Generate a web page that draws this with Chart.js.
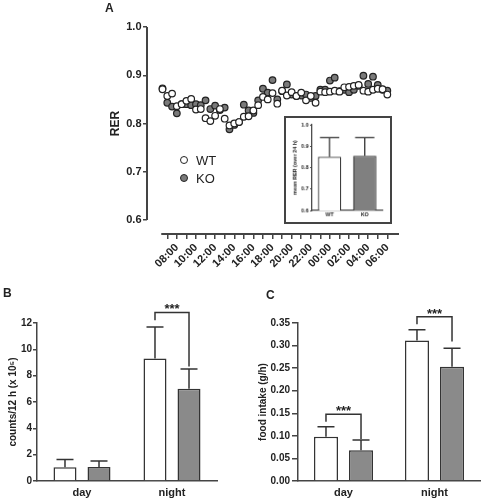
<!DOCTYPE html>
<html>
<head>
<meta charset="utf-8">
<script src="https://cdn.jsdelivr.net/npm/chart.js@4.4.1/dist/chart.umd.min.js"></script>
<style>
  body { margin: 0; background: #fff; }
  #wrap { position: relative; width: 484px; height: 500px; font-family: "Liberation Sans", Arial, sans-serif; color: #222; }
  #wrap canvas { position: absolute; }
  .tag { position: absolute; font-weight: bold; font-size: 12px; line-height: 12px; }
  #legendA { position: absolute; left: 180px; top: 151px; }
  #legendA div { display: flex; align-items: center; height: 18px; font-size: 13px; }
  #legendA span { display: inline-block; width: 6px; height: 6px; border: 1.3px solid #222; border-radius: 50%; margin-right: 8px; }
  #chartI { border: 2px solid #444; background: #fff; }
</style>
</head>
<body>
<div id="wrap">
  <canvas id="chartA" width="484" height="270" style="left:0;top:0"></canvas>
  <canvas id="chartI" width="108" height="108" style="left:284px;top:116px"></canvas>
  <canvas id="chartB" width="242" height="230" style="left:0;top:270px"></canvas>
  <canvas id="chartC" width="242" height="230" style="left:242px;top:270px"></canvas>
  <div class="tag" style="left:105px;top:2px">A</div>
  <div class="tag" style="left:3px;top:287px">B</div>
  <div class="tag" style="left:266px;top:289px">C</div>
  <div id="legendA"></div>
</div>
<script>
// panel A: RER over 24 h, one point every 30 min
const rerTimes = ['06:30','07:00','07:30','08:00','08:30','09:00','09:30','10:00','10:30','11:00','11:30','12:00',
  '12:30','13:00','13:30','14:00','14:30','15:00','15:30','16:00','16:30','17:00','17:30','18:00',
  '18:30','19:00','19:30','20:00','20:30','21:00','21:30','22:00','22:30','23:00','23:30','00:00',
  '00:30','01:00','01:30','02:00','02:30','03:00','03:30','04:00','04:30','05:00','05:30','06:00'];
const rerWT = [0.871, 0.857, 0.862, 0.836, 0.840, 0.847, 0.851, 0.829, 0.830, 0.811, 0.805, 0.816,
  0.830, 0.810, 0.796, 0.800, 0.803, 0.814, 0.815, 0.827, 0.838, 0.855, 0.850, 0.863,
  0.841, 0.868, 0.858, 0.865, 0.857, 0.864, 0.848, 0.857, 0.843, 0.866, 0.865, 0.866,
  0.868, 0.866, 0.875, 0.876, 0.878, 0.880, 0.868, 0.866, 0.870, 0.872, 0.871, 0.860];
const rerKO = [0.873, 0.843, 0.835, 0.821, 0.840, 0.840, 0.838, 0.840, 0.838, 0.848, 0.830, 0.837,
  0.828, 0.833, 0.788, 0.797, 0.803, 0.839, 0.827, 0.822, 0.848, 0.872, 0.864, 0.890,
  0.850, 0.867, 0.881, 0.860, 0.857, 0.858, 0.860, 0.853, 0.857, 0.870, 0.870, 0.889,
  0.895, 0.867, 0.870, 0.865, 0.870, 0.878, 0.899, 0.882, 0.897, 0.880, 0.870, 0.868];
const hourTickLabels = ['08:00','10:00','12:00','14:00','16:00','18:00','20:00','22:00','00:00','02:00','04:00','06:00'];
const rerTicks = [0.6, 0.7, 0.8, 0.9, 1.0];

// inset: mean RER over 24 h
const insetGroups = ['WT', 'KO'];
const insetMean = [0.851, 0.855];
const insetErr = [0.089, 0.085];

// panel B: activity counts
const periods = ['day', 'night'];
const countsWT = [1.04, 9.3];
const countsWTErr = [0.6, 2.4];
const countsKO = [1.07, 7.0];
const countsKOErr = [0.45, 1.5];
const countsSig = [{ index: 1, top: 12.8, left: 12.2, right: 8.7, label: '***' }];

// panel C: food intake
const foodWT = [0.098, 0.311];
const foodWTErr = [0.022, 0.024];
const foodKO = [0.068, 0.253];
const foodKOErr = [0.023, 0.041];
const foodSig = [
  { index: 0, top: 0.148, left: 0.131, right: 0.093, label: '***' },
  { index: 1, top: 0.364, left: 0.347, right: 0.309, label: '***' }
];

const WHITE = '#ffffff', GREY = '#8a8a8a', INK = '#222', AXIS = '#444';
Chart.defaults.font.family = '"Liberation Sans", Arial, sans-serif';
Chart.defaults.color = INK;

function toHour(t) {
  let h = +t.slice(0, 2) + (+t.slice(3)) / 60 - 7;
  if (h < -0.5) h += 24;
  return h;
}
const clockOf = {};
rerTimes.forEach(t => { clockOf[toHour(t)] = t; });
const hourTicks = rerTimes.filter(t => t.endsWith(':00')).map(toHour);

// detached axis lines for panel A (GraphPad style)
const axisLines = {
  id: 'axisLines',
  afterDraw(chart, args, opts) {
    const { ctx, chartArea, scales } = chart;
    ctx.save();
    ctx.strokeStyle = AXIS;
    ctx.lineWidth = 2;
    ctx.beginPath();
    ctx.moveTo(chartArea.left, scales.y.getPixelForValue(opts.y[0]));
    ctx.lineTo(chartArea.left, scales.y.getPixelForValue(opts.y[1]));
    ctx.moveTo(scales.x.getPixelForValue(opts.x[0]), chartArea.bottom);
    ctx.lineTo(scales.x.getPixelForValue(opts.x[1]), chartArea.bottom);
    ctx.stroke();
    const yc = (scales.y.getPixelForValue(opts.y[0]) + scales.y.getPixelForValue(opts.y[1])) / 2;
    ctx.translate(chartArea.left - 31, yc);
    ctx.rotate(-Math.PI / 2);
    ctx.fillStyle = INK;
    ctx.font = 'bold 12px "Liberation Sans", Arial';
    ctx.textAlign = 'center';
    ctx.textBaseline = 'middle';
    ctx.fillText(opts.title, 0, 0);
    ctx.restore();
  }
};

// error bars (upper only) and significance brackets
const errorBars = {
  id: 'errorBars',
  afterDatasetsDraw(chart, args, opts) {
    const { ctx } = chart;
    const yScale = chart.scales.y;
    ctx.save();
    ctx.strokeStyle = '#333';
    ctx.lineWidth = opts.lineWidth || 1.5;
    chart.data.datasets.forEach((ds, di) => {
      if (!ds.errors) return;
      chart.getDatasetMeta(di).data.forEach((bar, i) => {
        const yTop = yScale.getPixelForValue(ds.data[i] + ds.errors[i]);
        ctx.beginPath();
        ctx.moveTo(bar.x, bar.y);
        ctx.lineTo(bar.x, yTop);
        ctx.moveTo(bar.x - opts.cap / 2, yTop);
        ctx.lineTo(bar.x + opts.cap / 2, yTop);
        ctx.stroke();
      });
    });
    ctx.fillStyle = INK;
    ctx.font = 'bold 13px "Liberation Sans", Arial';
    ctx.textAlign = 'center';
    ctx.textBaseline = 'alphabetic';
    (opts.brackets || []).forEach(b => {
      const a = chart.getDatasetMeta(0).data[b.index];
      const c = chart.getDatasetMeta(1).data[b.index];
      const yT = yScale.getPixelForValue(b.top);
      ctx.beginPath();
      ctx.moveTo(a.x, yScale.getPixelForValue(b.left));
      ctx.lineTo(a.x, yT);
      ctx.lineTo(c.x, yT);
      ctx.lineTo(c.x, yScale.getPixelForValue(b.right));
      ctx.stroke();
      ctx.fillText(b.label, (a.x + c.x) / 2, yT + 1);
    });
    ctx.restore();
  }
};

// ---- panel A
const rerSets = [
  { label: 'WT', values: rerWT, fill: WHITE },
  { label: 'KO', values: rerKO, fill: '#7a7a7a' }
];
new Chart(document.getElementById('chartA'), {
  type: 'scatter',
  data: {
    datasets: rerSets.map(s => ({
      label: s.label,
      data: rerTimes.map((t, i) => ({ x: toHour(t), y: s.values[i] })),
      backgroundColor: s.fill,
      borderColor: INK,
      borderWidth: 1.2,
      pointRadius: 3.3
    }))
  },
  options: {
    responsive: false,
    animation: false,
    layout: { padding: { left: 0, top: 27, right: 85, bottom: 0 } },
    plugins: {
      legend: { display: false },
      tooltip: { enabled: false },
      axisLines: { x: [-0.63, 24.22], y: [0.6, 1.0], title: 'RER' }
    },
    scales: {
      x: {
        type: 'linear', min: -2.12, max: 24.22,
        afterBuildTicks: s => { s.ticks = hourTicks.map(v => ({ value: v })); },
        ticks: {
          autoSkip: false, minRotation: 45, maxRotation: 45, padding: 2,
          font: { size: 11, weight: 'bold' },
          callback: v => hourTickLabels.includes(clockOf[v]) ? clockOf[v] : ''
        },
        grid: { drawOnChartArea: false, tickLength: 5, color: AXIS, lineWidth: 1.5 },
        border: { display: false },
        afterFit: s => { s.height = 36; }
      },
      y: {
        min: 0.571, max: 1.0,
        afterBuildTicks: s => { s.ticks = rerTicks.map(v => ({ value: v })); },
        ticks: { padding: 1.5, font: { size: 11, weight: 'bold' }, callback: v => v.toFixed(1) },
        grid: { drawOnChartArea: false, tickLength: 4, color: AXIS, lineWidth: 1.5 },
        border: { display: false },
        afterFit: s => { s.width = 147; }
      }
    }
  },
  plugins: [axisLines]
});

// legend of panel A
const legendA = document.getElementById('legendA');
rerSets.forEach(s => {
  const row = document.createElement('div');
  const dot = document.createElement('span');
  dot.style.background = s.fill;
  row.appendChild(dot);
  row.appendChild(document.createTextNode(s.label));
  legendA.appendChild(row);
});

// ---- inset
new Chart(document.getElementById('chartI'), {
  type: 'bar',
  data: {
    labels: insetGroups,
    datasets: [{
      data: insetMean,
      errors: insetErr,
      backgroundColor: [WHITE, '#808080'],
      borderColor: '#333',
      borderWidth: 1.3,
      barPercentage: 0.66,
      categoryPercentage: 1
    }]
  },
  options: {
    responsive: false,
    animation: false,
    layout: { padding: { left: 0, top: 7, right: 8, bottom: 0 } },
    plugins: { legend: { display: false }, tooltip: { enabled: false }, errorBars: { cap: 20, lineWidth: 1.3 } },
    scales: {
      x: {
        ticks: { padding: 1.5, font: { size: 5.5, weight: 'bold' } },
        grid: { drawOnChartArea: false, drawTicks: false },
        border: { color: AXIS, width: 1.3 },
        afterFit: s => { s.height = 12; }
      },
      y: {
        min: 0.6, max: 1.0,
        ticks: { stepSize: 0.1, padding: 1.5, font: { size: 5.5, weight: 'bold' }, callback: v => v.toFixed(1) },
        grid: { drawOnChartArea: false, tickLength: 2, color: AXIS, lineWidth: 1 },
        border: { color: AXIS, width: 1.3 },
        title: { display: true, text: 'mean RER (over 24 h)', font: { size: 5.5, weight: 'bold' }, padding: { top: 6.4, bottom: 0 } },
        afterFit: s => { s.width = 27; }
      }
    }
  },
  plugins: [errorBars]
});

// ---- panels B and C
function periodChart(id, wt, wtErr, ko, koErr, sig, yOpts) {
  return new Chart(document.getElementById(id), {
    type: 'bar',
    data: {
      labels: periods,
      datasets: [
        { label: 'WT', data: wt, errors: wtErr, backgroundColor: WHITE },
        { label: 'KO', data: ko, errors: koErr, backgroundColor: GREY }
      ].map(d => Object.assign(d, { borderColor: '#333', borderWidth: 1.5, barPercentage: yOpts.bar, categoryPercentage: yOpts.cat }))
    },
    options: {
      responsive: false,
      animation: false,
      layout: { padding: { left: 0, top: 53, right: yOpts.padRight, bottom: 0 } },
      plugins: { legend: { display: false }, tooltip: { enabled: false }, errorBars: { cap: 17, brackets: sig } },
      scales: {
        x: {
          ticks: { padding: 5, font: { size: 11, weight: 'bold' } },
          grid: { drawOnChartArea: false, drawTicks: false },
          border: { color: AXIS, width: 1.5 },
          afterFit: s => { s.height = 19; }
        },
        y: {
          min: 0, max: yOpts.max,
          ticks: { stepSize: yOpts.step, padding: yOpts.tickPad, font: { size: 10, weight: 'bold' }, callback: yOpts.format },
          grid: { drawOnChartArea: false, tickLength: yOpts.tickLen, color: AXIS, lineWidth: 1.5 },
          border: { color: AXIS, width: 1.5 },
          title: { display: true, text: yOpts.title, font: { size: 10, weight: 'bold' }, padding: { top: yOpts.titlePad, bottom: 0 } },
          afterFit: s => { s.width = yOpts.width; }
        }
      }
    },
    plugins: [errorBars]
  });
}

periodChart('chartB', countsWT, countsWTErr, countsKO, countsKOErr, countsSig, {
  max: 12, step: 2, format: v => v, title: 'counts/12 h (x 10⁵)',
  width: 37, padRight: 25, tickLen: 4, tickPad: 1, titlePad: 7, bar: 0.676, cat: 0.756
});
periodChart('chartC', foodWT, foodWTErr, foodKO, foodKOErr, foodSig, {
  max: 0.35, step: 0.05, format: v => v.toFixed(2), title: 'food intake (g/h)',
  width: 56, padRight: 4, tickLen: 6, tickPad: 2, titlePad: 15, bar: 0.686, cat: 0.77
});
</script>
</body>
</html>
